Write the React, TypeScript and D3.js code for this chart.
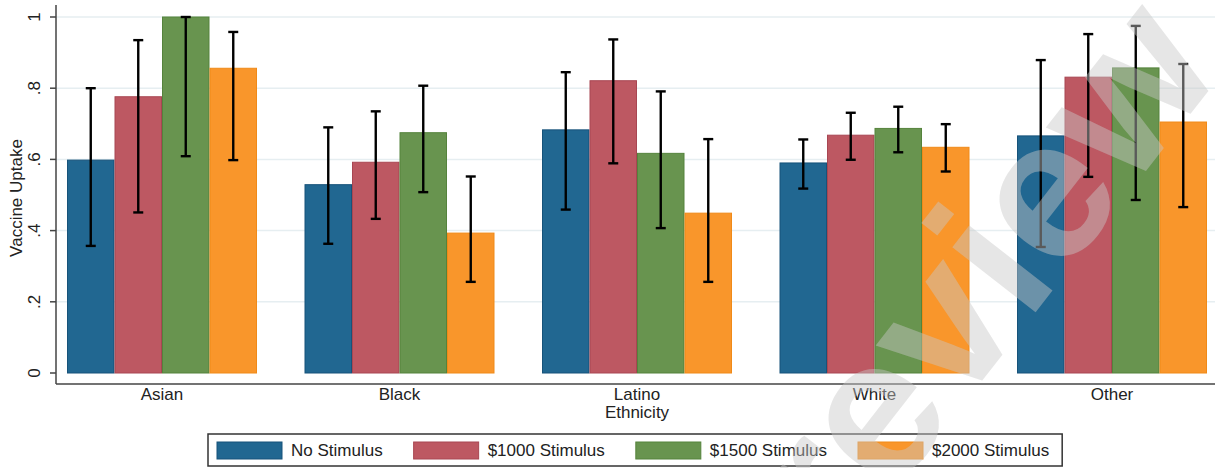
import React from 'react';
import * as d3 from 'd3';

const groups = ['Asian', 'Black', 'Latino', 'White', 'Other'];
const seriesNames = ['No Stimulus', '$1000 Stimulus', '$1500 Stimulus', '$2000 Stimulus'];

// mean uptake per group, one array per series
const noStimulus = [0.598, 0.529, 0.683, 0.590, 0.666];
const stim1000 = [0.776, 0.592, 0.821, 0.668, 0.831];
const stim1500 = [1.0, 0.675, 0.617, 0.687, 0.857];
const stim2000 = [0.856, 0.393, 0.449, 0.634, 0.705];

// confidence intervals: lower / upper
const noStimulusLo = [0.357, 0.363, 0.459, 0.518, 0.354];
const noStimulusHi = [0.800, 0.690, 0.845, 0.656, 0.879];
const stim1000Lo = [0.451, 0.433, 0.589, 0.599, 0.551];
const stim1000Hi = [0.935, 0.735, 0.937, 0.731, 0.952];
const stim1500Lo = [0.609, 0.508, 0.407, 0.620, 0.486];
const stim1500Hi = [1.0, 0.807, 0.791, 0.748, 0.975];
const stim2000Lo = [0.598, 0.256, 0.256, 0.566, 0.466];
const stim2000Hi = [0.958, 0.552, 0.657, 0.699, 0.868];

const yTicks = [0, 0.2, 0.4, 0.6, 0.8, 1];
const yTickLabels = ['0', '.2', '.4', '.6', '.8', '1'];

const fills = ['#216791', '#bd5862', '#68944f', '#f9962b'];
const strokes = ['#17537a', '#a84652', '#55833c', '#f08a18'];

const FONT = '"Liberation Sans", Arial, Helvetica, sans-serif';

const means = [noStimulus, stim1000, stim1500, stim2000];
const lows = [noStimulusLo, stim1000Lo, stim1500Lo, stim2000Lo];
const highs = [noStimulusHi, stim1000Hi, stim1500Hi, stim2000Hi];

const W = 1215;
const H = 468;

const measure = (txt: string, size: number) => {
    const ctx = document.createElement('canvas').getContext('2d');
    if (!ctx) return txt.length * size * 0.5;
    ctx.font = `${size}px ${FONT}`;
    return ctx.measureText(txt).width;
};

const App = () => {
    const axisX = 56;
    const axisY = 384;
    const yScale = d3.scaleLinear().domain([0, 1]).range([373, 17]);
    const x0 = d3.scaleBand().domain(groups).range([67, 1207]).paddingInner(0.2).paddingOuter(0);
    const x1 = d3.scaleBand().domain(seriesNames).range([0, x0.bandwidth()]);
    const capW = 10;

    // legend layout
    const swW = 65, swH = 17, gapText = 9, gapEntry = 31;
    let cursor = 217;
    const legendItems = seriesNames.map((name, i) => {
        const item = { name, i, x: cursor };
        cursor += swW + gapText + measure(name, 17) + gapEntry;
        return item;
    });
    const legendRight = cursor - gapEntry + 13;

    return (
        <svg width={W} height={H} style={{ position: 'absolute', left: 0, top: 0, background: '#fff' }}
            fontFamily={FONT}>
            {/* gridlines */}
            {yTicks.filter(t => t > 0).map(t => (
                <line key={'g' + t} x1={axisX} x2={W} y1={yScale(t)} y2={yScale(t)}
                    stroke="#e6eef1" strokeWidth={1.5} />
            ))}

            {/* bars */}
            {groups.map((g, gi) => (
                <g key={g} transform={`translate(${x0(g)},0)`}>
                    {seriesNames.map((s, si) => (
                        <rect key={s} x={x1(s)! + 0.5} y={yScale(means[si][gi])}
                            width={x1.bandwidth() - 1} height={yScale(0) - yScale(means[si][gi])}
                            fill={fills[si]} stroke={strokes[si]} strokeWidth={1} />
                    ))}
                </g>
            ))}

            {/* error bars */}
            {groups.map((g, gi) => (
                <g key={'e' + g} transform={`translate(${x0(g)},0)`} stroke="#000" strokeWidth={2.4}>
                    {seriesNames.map((s, si) => {
                        const cx = x1(s)! + x1.bandwidth() / 2;
                        const lo = yScale(lows[si][gi]);
                        const hi = yScale(highs[si][gi]);
                        return (
                            <g key={s}>
                                <line x1={cx} x2={cx} y1={hi} y2={lo} />
                                <line x1={cx - capW / 2} x2={cx + capW / 2} y1={hi} y2={hi} />
                                <line x1={cx - capW / 2} x2={cx + capW / 2} y1={lo} y2={lo} />
                            </g>
                        );
                    })}
                </g>
            ))}

            {/* axes */}
            <line x1={axisX} x2={axisX} y1={5} y2={axisY} stroke="#444" strokeWidth={1.5} />
            <line x1={axisX} x2={W} y1={axisY} y2={axisY} stroke="#444" strokeWidth={1.5} />
            {yTicks.map((t, i) => (
                <g key={'t' + t}>
                    <line x1={axisX - 6} x2={axisX} y1={yScale(t)} y2={yScale(t)} stroke="#444" strokeWidth={1.5} />
                    <text transform={`translate(40,${yScale(t)}) rotate(-90)`} textAnchor="middle"
                        fontSize={17} fill="#222">{yTickLabels[i]}</text>
                </g>
            ))}
            <text transform={`translate(22,198) rotate(-90)`} textAnchor="middle" fontSize={17} fill="#222">
                Vaccine Uptake
            </text>
            {groups.map(g => (
                <text key={'l' + g} x={x0(g)! + x0.bandwidth() / 2} y={400} textAnchor="middle"
                    fontSize={17} fill="#222">{g}</text>
            ))}
            <text x={x0('Latino')! + x0.bandwidth() / 2} y={418} textAnchor="middle" fontSize={17} fill="#222">
                Ethnicity
            </text>

            {/* legend */}
            <rect x={208} y={434} width={legendRight - 208} height={32} fill="#fff" stroke="#333" strokeWidth={1.5} />
            {legendItems.map(it => (
                <g key={it.name}>
                    <rect x={it.x} y={442} width={swW} height={swH} fill={fills[it.i]} stroke={strokes[it.i]} strokeWidth={1} />
                    <text x={it.x + swW + gapText} y={456} fontSize={17} fill="#222">{it.name}</text>
                </g>
            ))}

            {/* watermark */}
            <text transform="translate(842,560) rotate(-52)" fontSize={200} fontWeight="bold"
                fill="#c8c8c8" fillOpacity={0.45}>
                review
            </text>
        </svg>
    );
};

export default App;
